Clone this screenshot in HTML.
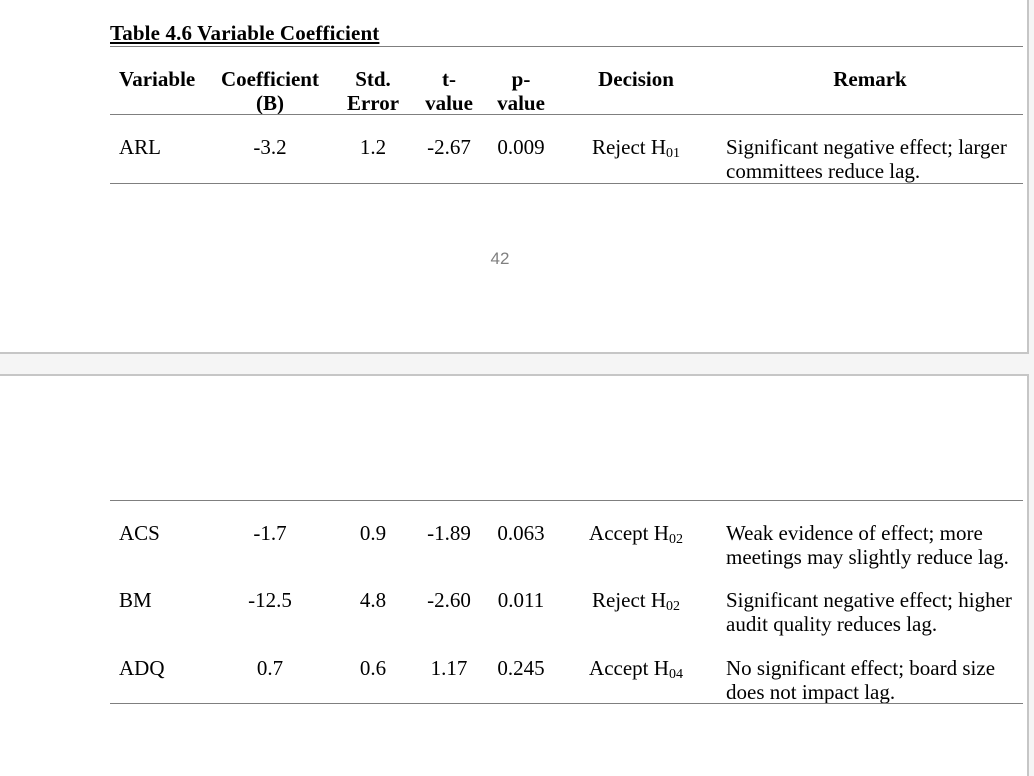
<!DOCTYPE html>
<html>
<head>
<meta charset="utf-8">
<style>
  html, body { margin:0; padding:0; }
  body { width:1034px; height:737px; position:relative; overflow:hidden; background:#f5f5f5;
         font-family:"Liberation Serif", "Times New Roman", serif; color:#000; }
  .page1 { position:absolute; left:0; top:0; width:1027px; height:352px; background:#fff;
           border-right:2px solid #c6c6c6; border-bottom:2px solid #c6c6c6; }
  .page2 { position:absolute; left:0; top:374px; width:1027px; height:400px; background:#fff;
           border-right:2px solid #c6c6c6; border-top:2px solid #c6c6c6; }
  .hl { position:absolute; left:110px; width:913px; height:1px; background:#7f7f7f; }
  .t { position:absolute; font-size:21px; line-height:24px; white-space:nowrap; }
  .c { text-align:center; }
  .b { font-weight:bold; }
  sub { font-size:14px; line-height:0; vertical-align:-3px; }
  .title { position:absolute; left:110px; top:21px; font-size:21px; line-height:24px; font-weight:bold;
           text-decoration:underline; white-space:nowrap; letter-spacing:0.14px; }
  .pn { position:absolute; left:470px; width:60px; top:250px; text-align:center;
        font-family:"Liberation Sans", Arial, sans-serif; font-size:17px; line-height:17px; color:#808080; }
</style>
</head>
<body>
<div class="page1"></div>
<div class="page2"></div>

<!-- Page 1 -->
<div class="title">Table 4.6 Variable Coefficient</div>
<div class="hl" style="top:46px"></div>

<div class="t b" style="left:119px;top:67px">Variable</div>
<div class="t b c" style="left:210px;width:120px;top:67px">Coefficient<br>(B)</div>
<div class="t b c" style="left:333px;width:80px;top:67px">Std.<br>Error</div>
<div class="t b c" style="left:414px;width:70px;top:67px">t-<br>value</div>
<div class="t b c" style="left:486px;width:70px;top:67px">p-<br>value</div>
<div class="t b c" style="left:576px;width:120px;top:67px">Decision</div>
<div class="t b c" style="left:770px;width:200px;top:67px">Remark</div>

<div class="hl" style="top:114px"></div>

<div class="t" style="left:119px;top:135px">ARL</div>
<div class="t c" style="left:210px;width:120px;top:135px">-3.2</div>
<div class="t c" style="left:333px;width:80px;top:135px">1.2</div>
<div class="t c" style="left:414px;width:70px;top:135px">-2.67</div>
<div class="t c" style="left:486px;width:70px;top:135px">0.009</div>
<div class="t c" style="left:576px;width:120px;top:135px">Reject H<sub>01</sub></div>
<div class="t" style="left:726px;top:135px">Significant negative effect; larger<br>committees reduce lag.</div>

<div class="hl" style="top:183px"></div>

<div class="pn">42</div>

<!-- Page 2 -->
<div class="hl" style="top:500px"></div>

<div class="t" style="left:119px;top:521px">ACS</div>
<div class="t c" style="left:210px;width:120px;top:521px">-1.7</div>
<div class="t c" style="left:333px;width:80px;top:521px">0.9</div>
<div class="t c" style="left:414px;width:70px;top:521px">-1.89</div>
<div class="t c" style="left:486px;width:70px;top:521px">0.063</div>
<div class="t c" style="left:576px;width:120px;top:521px">Accept H<sub>02</sub></div>
<div class="t" style="left:726px;top:521px">Weak evidence of effect; more<br>meetings may slightly reduce lag.</div>

<div class="t" style="left:119px;top:588px">BM</div>
<div class="t c" style="left:210px;width:120px;top:588px">-12.5</div>
<div class="t c" style="left:333px;width:80px;top:588px">4.8</div>
<div class="t c" style="left:414px;width:70px;top:588px">-2.60</div>
<div class="t c" style="left:486px;width:70px;top:588px">0.011</div>
<div class="t c" style="left:576px;width:120px;top:588px">Reject H<sub>02</sub></div>
<div class="t" style="left:726px;top:588px">Significant negative effect; higher<br>audit quality reduces lag.</div>

<div class="t" style="left:119px;top:656px">ADQ</div>
<div class="t c" style="left:210px;width:120px;top:656px">0.7</div>
<div class="t c" style="left:333px;width:80px;top:656px">0.6</div>
<div class="t c" style="left:414px;width:70px;top:656px">1.17</div>
<div class="t c" style="left:486px;width:70px;top:656px">0.245</div>
<div class="t c" style="left:576px;width:120px;top:656px">Accept H<sub>04</sub></div>
<div class="t" style="left:726px;top:656px">No significant effect; board size<br>does not impact lag.</div>

<div class="hl" style="top:703px"></div>
</body>
</html>
